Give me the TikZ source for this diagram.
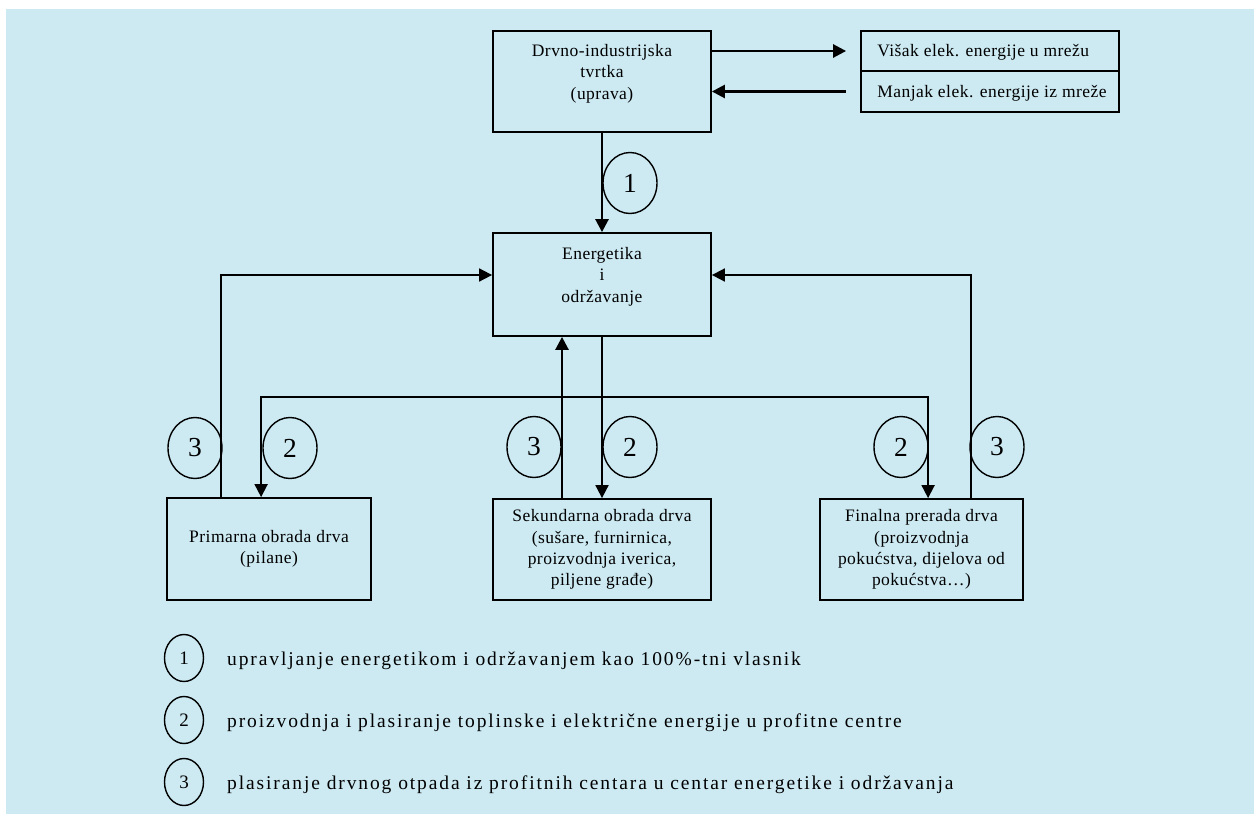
\documentclass[tikz,border=0pt]{standalone}
\usepackage{fontspec}
\setmainfont{Liberation Serif}
\newfontfamily\boxfont[LetterSpace=2.7]{Liberation Serif}
\newfontfamily\legfont[LetterSpace=9.7]{Liberation Serif}
\usetikzlibrary{arrows.meta,shapes.geometric}
\definecolor{bg}{RGB}{205,234,243}
\begin{document}
\begin{tikzpicture}[x=1pt,y=-1pt,
  box/.style={draw, line width=1.8pt, inner sep=0, rectangle},
  boxtxt/.style={align=center, inner sep=0, font=\boxfont\fontsize{17.5pt}{21.3pt}\selectfont},
  num/.style={draw, ellipse, line width=1.4pt, minimum width=54pt, minimum height=61pt, inner sep=0, font=\fontsize{27.5pt}{27.5pt}\selectfont},
  legnum/.style={num, minimum width=39pt, minimum height=47pt, font=\fontsize{19pt}{19pt}\selectfont},
  legtxt/.style={inner sep=0, anchor=base west, font=\legfont\fontsize{19.5pt}{22pt}\selectfont},
  arr/.style={line width=1.8pt, -{Triangle[length=13pt,width=13pt]}},
  heavyarr/.style={line width=2.6pt, -{Triangle[length=13pt,width=13pt]}},
  plain/.style={line width=1.3pt}
]
\useasboundingbox (0,0) rectangle (1254,814);
\fill[bg] (6,9) rectangle (1254,814);

% boxes
\node[box, minimum width=218pt, minimum height=101pt] (top) at (602,81.5) {};
\node[box, minimum width=218pt, minimum height=103pt] (en) at (602,284.5) {};
\node[box, minimum width=258pt, minimum height=40pt] (visak) at (990,51) {};
\node[box, minimum width=258pt, minimum height=41pt] (manjak) at (990,91.5) {};
\node[box, minimum width=204pt, minimum height=102pt] (prim) at (269,549) {};
\node[box, minimum width=218pt, minimum height=101pt] (sek) at (602,549.5) {};
\node[box, minimum width=203pt, minimum height=101pt] (fin) at (921.5,549.5) {};

% box texts
\node[boxtxt, anchor=north] (toptxt) at ([yshift=-14pt]top.north) {Drvno-industrijska\\tvrtka\\(uprava)};
\node[boxtxt, anchor=north] (entxt) at ([yshift=-15pt]en.north) {Energetika\\i\\održavanje};
\node[boxtxt, anchor=base west] (visaktxt) at ([xshift=17pt,yshift=-5.5pt]visak.west) {Višak elek. energije u mrežu};
\node[boxtxt, anchor=base west] (manjaktxt) at ([xshift=17pt,yshift=-5.5pt]manjak.west) {Manjak elek. energije iz mreže};
\node[boxtxt] (primtxt) at (prim.center) {Primarna obrada drva\\(pilane)};
\node[boxtxt] (sektxt) at (sek.center) {Sekundarna obrada drva\\(sušare, furnirnica,\\proizvodnja iverica,\\piljene građe)};
\node[boxtxt] (fintxt) at (fin.center) {Finalna prerada drva\\(proizvodnja\\pokućstva, dijelova od\\pokućstva…)};

% connectors
\draw[heavyarr] (visak.west -| top.east) -- ([xshift=-14pt]visak.west);
\draw[heavyarr] ([xshift=-14pt]manjak.west) -- (manjak.west -| top.east);
\draw[heavyarr] (top.south) -- (en.north);
\draw[arr] ([xshift=55pt]prim.north west) |- ([yshift=9.5pt]en.west);
\draw[arr] ([xshift=-53pt]fin.north east) |- ([yshift=9.5pt]en.east);
\draw[heavyarr] ([xshift=-40pt]sek.north) -- ([xshift=-40pt]en.south);
\coordinate (hub) at (602,397);
\draw[plain] (en.south) -- (hub);
\draw[arr] (hub) -- (sek.north);
\draw[arr] (hub) -| ([xshift=95pt]prim.north west);
\draw[arr] (hub) -| ([xshift=109pt]fin.north west);

% number circles
\node[num] (c1) at (630,183) {1};
\node[num] (c3a) at (195,448) {3};
\node[num] (c2a) at (290,448) {2};
\node[num] (c3b) at (534,447) {3};
\node[num] (c2b) at (630,447) {2};
\node[num] (c2c) at (901,447) {2};
\node[num] (c3c) at (997,447) {3};

% legend
\node[legnum] (l1) at (184,658) {1};
\node[legnum] (l2) at (184,720) {2};
\node[legnum] (l3) at (184,782) {3};
\node[legtxt] (l1t) at (227,665) {upravljanje energetikom i održavanjem kao 100\%-tni vlasnik};
\node[legtxt] (l2t) at (227,727) {proizvodnja i plasiranje toplinske i električne energije u profitne centre};
\node[legtxt] (l3t) at (227,789) {plasiranje drvnog otpada iz profitnih centara u centar energetike i održavanja};
\end{tikzpicture}
\end{document}
